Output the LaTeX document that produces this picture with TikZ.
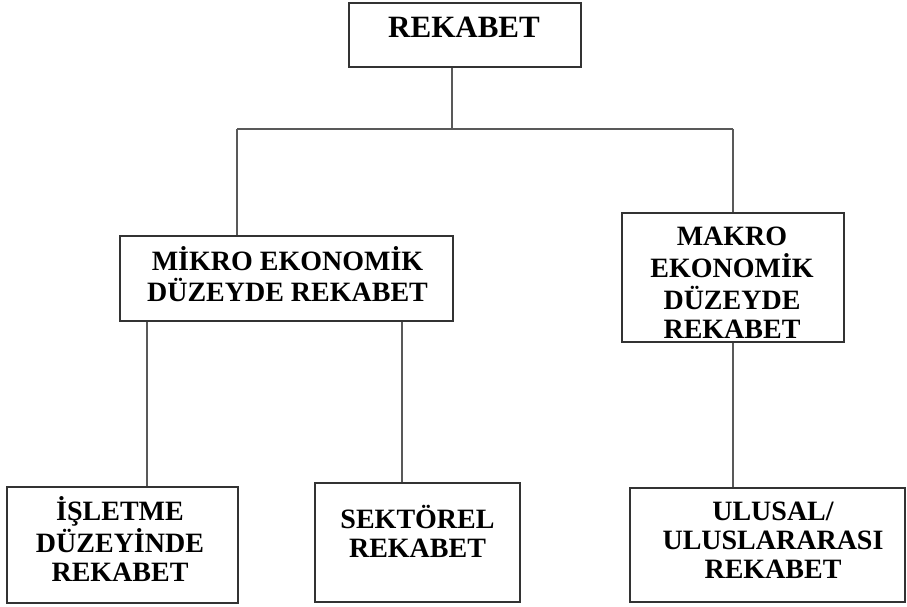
\documentclass[tikz,border=0pt]{standalone}
\usepackage{fontspec}
\setmainfont{Liberation Serif}
\begin{document}
\begin{tikzpicture}[x=1pt,y=-1pt,
  box/.style={draw=black!80, line width=2pt, fill=white, inner sep=0pt},
  conn/.style={draw=black!65, line width=2.2pt},
  txt/.style={inner sep=0pt, anchor=base, font=\bfseries\fontsize{28}{29}\selectfont},
  toptxt/.style={inner sep=0pt, anchor=base, font=\bfseries\fontsize{31}{32}\selectfont}]
\useasboundingbox (0,0) rectangle (907,607);
% boxes
\node[box, minimum width=232pt, minimum height=64pt] (top) at (465,35) {};
\node[box, minimum width=333pt, minimum height=85pt] (mikro) at (286.5,278.5) {};
\node[box, minimum width=222pt, minimum height=129pt] (makro) at (733,277.5) {};
\node[box, minimum width=231pt, minimum height=116pt] (isletme) at (122.5,545) {};
\node[box, minimum width=205pt, minimum height=119pt] (sektorel) at (417.5,542.5) {};
\node[box, minimum width=275pt, minimum height=114pt] (ulusal) at (767.5,545) {};
% texts
\node[toptxt] (ttop) at (464,38) {REKABET};
\node[txt] (tmikro) at (287.5,270) {\setlength{\tabcolsep}{0pt}\begin{tabular}[t]{c}MİKRO EKONOMİK\\DÜZEYDE REKABET\end{tabular}};
\node[txt] (tmakro) at (732,245) {\setlength{\tabcolsep}{0pt}\begin{tabular}[t]{c}MAKRO\\EKONOMİK\\DÜZEYDE\\REKABET\end{tabular}};
\node[txt] (tisletme) at (120,520) {\setlength{\tabcolsep}{0pt}\begin{tabular}[t]{c}İŞLETME\\DÜZEYİNDE\\REKABET\end{tabular}};
\node[txt] (tsektorel) at (417.5,528) {\setlength{\tabcolsep}{0pt}\begin{tabular}[t]{c}SEKTÖREL\\REKABET\end{tabular}};
\node[txt] (tulusal) at (773,520) {\setlength{\tabcolsep}{0pt}\begin{tabular}[t]{c}ULUSAL/\\ULUSLARARASI\\REKABET\end{tabular}};
% connectors
\coordinate (busL) at (237,129);
\coordinate (busM) at (452,129);
\coordinate (busR) at (733,129);
\draw[conn] (busL) -- (busR);
\draw[conn] (top.south -| busM) -- (busM);
\draw[conn] (busL) -- (busL |- mikro.north);
\draw[conn] (busR) -- (busR |- makro.north);
\draw[conn] ([xshift=24.5pt]isletme.north) -- ([xshift=24.5pt]isletme.north |- mikro.south);
\draw[conn] ([xshift=-15.5pt]sektorel.north) -- ([xshift=-15.5pt]sektorel.north |- mikro.south);
\draw[conn] (ulusal.north -| makro.south) -- (makro.south);
\end{tikzpicture}
\end{document}
